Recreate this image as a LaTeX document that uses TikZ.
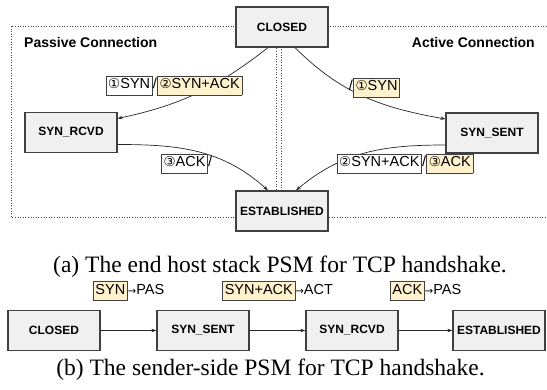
\documentclass[tikz,border=0pt]{standalone}
\usepackage{fontspec}
\setmainfont{Liberation Serif}
\setsansfont{Liberation Sans}
\newfontfamily\symfont{DejaVu Sans}
\usepackage{tikz}
\usetikzlibrary{arrows.meta}

\definecolor{boxgray}{HTML}{F0F0F0}
\definecolor{edgegray}{HTML}{404040}
\definecolor{sendyellow}{HTML}{FFF2CC}

\setlength{\fboxsep}{2pt}
\setlength{\fboxrule}{0.7pt}
\newcommand{\circnum}[1]{{\symfont\fontsize{13.5}{13.5}\selectfont #1}}
\newcommand{\goesto}{{\symfont\fontsize{10}{10}\selectfont →}}
\newcommand{\rcvbox}[1]{\fcolorbox{edgegray}{white}{\strut #1}}
\newcommand{\sndbox}[1]{\fcolorbox{edgegray}{sendyellow}{\strut #1}}

\begin{document}
\begin{tikzpicture}[x=1pt,y=-1pt,
	state/.style={shape=rectangle,draw=edgegray,fill=boxgray,line width=1.2pt,minimum width=92pt,minimum height=40pt,inner sep=0pt,font=\sffamily\bfseries\fontsize{12}{12}\selectfont},
	trans/.style={-{Stealth[length=5pt,width=3.5pt]},line width=0.7pt,draw=black!85},
	zonebox/.style={draw=black!70,dotted,line width=0.6pt},
	lbl/.style={inner sep=0pt,font=\sffamily\fontsize{14.5}{14.5}\selectfont},
	zonetitle/.style={inner sep=0pt,font=\sffamily\bfseries\fontsize{14}{14}\selectfont},
	capt/.style={inner sep=0pt,font=\fontsize{23.5}{23.5}\selectfont}]
	
	\useasboundingbox (0,0) rectangle (547,390);
	
	\draw[zonebox] (11,26) rectangle (276,217);
	\draw[zonebox] (281,26) rectangle (549,217);
	\node[zonetitle,anchor=base west] (passive) at (24,48)  {Passive Connection};
	\node[zonetitle,anchor=base east] (active)  at (535,48) {Active Connection};
	
	\node[state] (closed)  at (282,27)    {CLOSED};
	\node[state] (rcvd)    at (71,132.5)  {SYN\_RCVD};
	\node[state] (sent)    at (492,133)   {SYN\_SENT};
	\node[state] (estab)   at (282,211)   {ESTABLISHED};
	
	\draw[trans] ([xshift=-14pt]closed.south) to[out=218,in=12]  ([yshift=14pt]rcvd.east);
	\draw[trans] ([xshift=13pt]closed.south)  to[out=-45,in=170] ([yshift=14pt]sent.west);
	\draw[trans] ([yshift=-12pt]rcvd.east)    to[out=0,in=138]   ([xshift=-14pt]estab.north);
	\draw[trans] ([yshift=-12pt]sent.west)    to[out=180,in=40]  ([xshift=14pt]estab.north);
	
	\node[lbl,fill=white] (l-rcvd)  at (174,85.5)  {\rcvbox{\circnum{①}SYN}/\sndbox{\circnum{②}SYN+ACK}};
	\node[lbl]            (l-sent)  at (374.5,87.5) {/\sndbox{\circnum{①}SYN}};
	\node[lbl]            (l-ack)   at (186.5,164) {\rcvbox{\circnum{③}ACK}/};
	\node[lbl]            (l-synack) at (405,163.5) {\rcvbox{\circnum{②}SYN+ACK}/\sndbox{\circnum{③}ACK}};
	
	\node[capt,anchor=base] (capa) at (280,273) {(a) The end host stack PSM for TCP handshake.};
	
	\node[state] (b-closed) at (54,330.5)  {CLOSED};
	\node[state] (b-sent)   at (203,330.5) {SYN\_SENT};
	\node[state] (b-rcvd)   at (352,330.5) {SYN\_RCVD};
	\node[state] (b-estab)  at (499,330.5) {ESTABLISHED};
	
	\draw[trans] (b-closed) -- node[lbl,above=29pt] {\sndbox{SYN}\goesto PAS} (b-sent);
	\draw[trans] (b-sent)   -- node[lbl,above=29pt] {\sndbox{SYN+ACK}\goesto ACT} (b-rcvd);
	\draw[trans] (b-rcvd)   -- node[lbl,above=29pt] {\sndbox{ACK}\goesto PAS} (b-estab);
	
	\node[capt,anchor=base] (capb) at (270.5,376) {(b) The sender-side PSM for TCP handshake.};
	
\end{tikzpicture}
\end{document}
